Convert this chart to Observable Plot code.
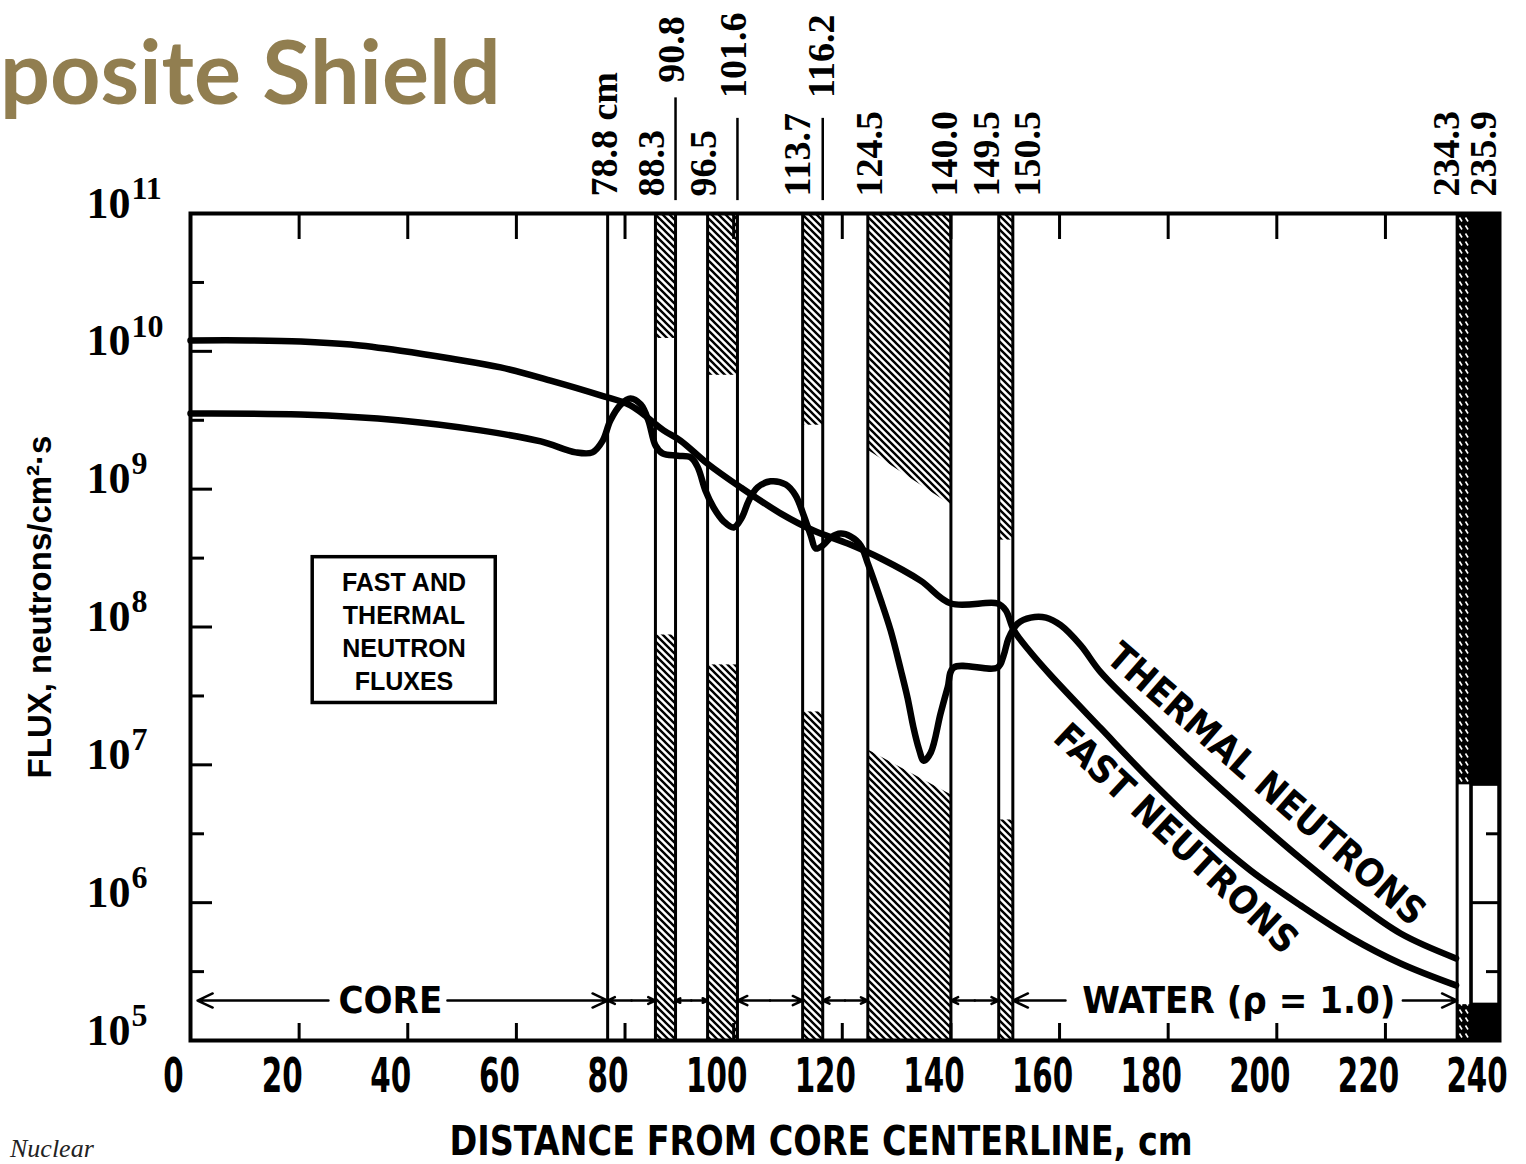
<!DOCTYPE html>
<html><head><meta charset="utf-8">
<script src="https://cdn.jsdelivr.net/npm/d3@7"></script>
<script src="https://cdn.jsdelivr.net/npm/@observablehq/plot@0.6"></script>
<style>
html,body{margin:0;padding:0;background:#fff;}
body{width:1526px;height:1164px;overflow:hidden;position:relative;}
#chart{position:absolute;left:0;top:0;}
#title{position:absolute;left:0px;top:25px;font-family:Lato,"Open Sans",sans-serif;font-weight:700;font-size:88px;line-height:90px;color:#917E50;white-space:nowrap;}
#note{position:absolute;left:10px;top:1136px;font-family:"Liberation Serif",serif;font-style:italic;font-size:26px;line-height:26px;color:#222;}
</style></head>
<body>
<svg width="0" height="0" style="position:absolute">
 <defs>
  <pattern id="hatch" patternUnits="userSpaceOnUse" width="7" height="7">
    <rect width="7" height="7" fill="#fff"/>
    <path d="M-2,-2L9,9M-2,5L2,9M5,-2L9,2" stroke="#000" stroke-width="2.4"/>
  </pattern>
  <pattern id="hatchDense" patternUnits="userSpaceOnUse" width="6" height="8">
    <rect width="6" height="8" fill="#000"/>
    <path d="M1.5,1.5L4,5.5" stroke="#fff" stroke-width="1.6"/>
  </pattern>
 </defs>
</svg>
<div id="chart"></div>
<div id="title">posite Shield</div>
<div id="note">Nuclear</div>
<script>
// ---- data ----
const xTicks = [0, 20, 40, 60, 80, 100, 120, 140, 160, 180, 200, 220, 240];
const xTickLabels = ["0", "20", "40", "60", "80", "100", "120", "140", "160", "180", "200", "220", "240"];
const yDecades = [1e5, 1e6, 1e7, 1e8, 1e9, 1e10, 1e11];
const yExponents = ["5", "6", "7", "8", "9", "10", "11"];
const yHalfDecades = [3.16e5, 3.16e6, 3.16e7, 3.16e8, 3.16e9, 3.16e10];

const fastX = [0, 11.0, 20.3, 29.5, 38.7, 47.9, 57.1, 66.3, 75.5, 81.0, 87.1, 90.2, 95.2, 101.3, 108.7, 114.7, 121.0, 127.1, 134.4, 140.0, 148.6, 150.1, 151.6, 154.7, 158.4, 167.6, 176.8, 186.0, 195.2, 204.4, 213.6, 222.8, 233.0];
const fastFlux = [1.20e10, 1.20e10, 1.18e10, 1.12e10, 1.01e10, 8.87e9, 7.64e9, 6.13e9, 4.79e9, 4.05e9, 2.67e9, 2.25e9, 1.53e9, 1.03e9, 6.65e8, 5.01e8, 4.03e8, 3.14e8, 2.17e8, 1.48e8, 1.48e8, 1.32e8, 9.44e7, 6.53e7, 4.45e7, 1.84e7, 7.69e6, 3.45e6, 1.71e6, 9.53e5, 5.58e5, 3.62e5, 2.51e5];

const thermalX = [0, 20.3, 38.7, 53.4, 64.5, 70.9, 74.0, 75.9, 77.3, 79.2, 81.0, 82.9, 84.3, 85.6, 86.9, 89.7, 92.1, 93.4, 94.8, 96.3, 98.2, 100.0, 101.5, 102.8, 104.4, 106.8, 109.6, 111.4, 112.9, 114.2, 115.1, 116.4, 117.9, 119.7, 121.5, 123.4, 124.7, 127.1, 128.9, 130.8, 132.0, 133.1, 134.1, 135.0, 136.3, 138.1, 139.4, 140.5, 148.6, 149.7, 150.6, 152.3, 154.7, 157.5, 160.2, 163.9, 167.6, 176.8, 186.0, 195.2, 204.4, 213.6, 222.8, 233.0];
const thermalFlux = [3.54e9, 3.48e9, 3.15e9, 2.67e9, 2.22e9, 1.85e9, 1.85e9, 2.25e9, 3.15e9, 4.11e9, 4.55e9, 4.11e9, 3.15e9, 2.08e9, 1.82e9, 1.75e9, 1.70e9, 1.44e9, 9.77e8, 7.36e8, 5.82e8, 5.27e8, 6.22e8, 8.28e8, 1.03e9, 1.14e9, 1.08e9, 9.0e8, 6.44e8, 4.61e8, 3.71e8, 3.90e8, 4.46e8, 4.76e8, 4.54e8, 3.90e8, 2.89e8, 1.56e8, 9.44e7, 4.83e7, 3.08e7, 1.87e7, 1.31e7, 1.07e7, 1.23e7, 2.36e7, 3.64e7, 5.08e7, 5.08e7, 6.21e7, 8.24e7, 1.06e8, 1.17e8, 1.17e8, 1.03e8, 7.35e7, 4.68e7, 2.03e7, 9.10e6, 4.29e6, 2.09e6, 1.07e6, 5.97e5, 3.94e5];

// layer boundaries as drawn (cm on the axis)
const boundaries = [76.8, 85.6, 89.3, 95.2, 100.7, 112.7, 116.4, 124.7, 140.0, 148.8, 151.4, 233.2, 235.8];
// narrow hatched layers
const layerStart = [85.6, 95.2, 112.7, 148.8];
const layerEnd = [89.3, 100.7, 116.4, 151.4];
const layerTopEnd = [1.24e10, 6.70e9, 2.91e9, 4.27e8];
const layerBottomEnd = [8.75e7, 5.31e7, 2.42e7, 3.98e6];
// thick hatched slab (124.5-140.0)
const slabX = [124.7, 140.0];
const slabTopEnd = [1.92e9, 7.66e8];
const slabBottomEnd = [1.285e7, 6.07e6];
// outer liner and vessel
const linerX = [233.2, 235.8];
const vesselX = [235.8, 241];
const windowTop = 7.16e6;
const windowBottom = 1.82e5;

const layerLabels = ["78.8 cm", "88.3", "96.5", "113.7", "124.5", "140.0", "149.5", "150.5", "234.3", "235.9"];
const layerLabelX = [76.2, 84.9, 94.5, 111.8, 125.0, 138.9, 146.6, 154.1, 231.3, 238.1];
const upperLabels = ["90.8", "101.6", "116.2"];
const upperLabelX = [88.6, 100.0, 116.2];
const upperLabelY = [8.9e11, 6.9e11, 6.9e11];
const leaderX = [89.3, 100.7, 116.4];
const leaderTop = [6.9e11, 4.9e11, 4.9e11];
const leaderBottom = 1.24e11;

const dimY = 1.95e5;
const dimFrom = [25.4, 47.3, 81.2, 81.2, 92.2, 92.2, 106.7, 106.7, 120.5, 120.5, 144.4, 144.4, 161.1, 223.2];
const dimTo = [1.3, 76.8, 76.8, 85.6, 89.3, 95.2, 100.7, 112.7, 116.4, 124.7, 140.0, 148.8, 151.4, 233.2];
const regionNames = ["CORE", "WATER (ρ = 1.0)"];
const regionNameX = [36.8, 193.0];

const legendBox = [{x1: 22.5, x2: 56.2, y1: 2.81e7, y2: 3.21e8}];
const legendText = ["FAST AND\nTHERMAL\nNEUTRON\nFLUXES"];
const legendX = [39.3];
const legendY = [9.5e7];

const curveNames = ["THERMAL NEUTRONS", "FAST NEUTRONS"];
const curveNameX = [198.0, 181.4];
const curveNameY = [7.2e6, 2.9e6];
const curveNameAngle = [41, 43];

// ---- tables ----
const fast = fastX.map((x, i) => ({x, y: fastFlux[i]}));
const thermal = thermalX.map((x, i) => ({x, y: thermalFlux[i]}));
const layersTop = layerStart.map((x1, i) => ({x1, x2: layerEnd[i], y1: layerTopEnd[i], y2: 1e11}));
const layersBottom = layerStart.map((x1, i) => ({x1, x2: layerEnd[i], y1: 1e5, y2: layerBottomEnd[i]}));
const slabTop = slabX.map((x, i) => ({x, y1: 1e11, y2: slabTopEnd[i]}));
const slabBottom = slabX.map((x, i) => ({x, y1: 1e5, y2: slabBottomEnd[i]}));
const outerTop = [{x1: linerX[0], x2: linerX[1], y1: windowTop, y2: 1e11}];
const outerBottom = [{x1: linerX[0], x2: linerX[1], y1: 1e5, y2: windowBottom}];
const vesselTop = [{x1: vesselX[0], x2: vesselX[1], y1: windowTop, y2: 1e11}];
const vesselBottom = [{x1: vesselX[0], x2: vesselX[1], y1: 1e5, y2: windowBottom}];
const vesselWindow = [{x1: vesselX[0], x2: vesselX[1], y1: windowBottom, y2: windowTop}];
const dims = dimFrom.map((x1, i) => ({x1, x2: dimTo[i]}));

const narrow = '"Liberation Sans Narrow","Arial Narrow","DejaVu Sans Condensed","Liberation Sans",sans-serif';
const serif = '"Liberation Serif","DejaVu Serif",serif';
const sans = '"Liberation Sans",Arial,sans-serif';
const noLabel = () => "";

const chart = Plot.plot({
  width: 1526, height: 1164,
  marginLeft: 190, marginRight: 27, marginTop: 213, marginBottom: 124,
  x: {domain: [0, 241]},
  y: {type: "log", domain: [1e5, 1e11]},
  style: {background: "white", color: "black", fontFamily: sans},
  marks: [
    Plot.rect(layersTop, {x1: "x1", x2: "x2", y1: "y1", y2: "y2", fill: "url(#hatch)"}),
    Plot.rect(layersBottom, {x1: "x1", x2: "x2", y1: "y1", y2: "y2", fill: "url(#hatch)"}),
    Plot.areaY(slabTop, {x: "x", y1: "y1", y2: "y2", fill: "url(#hatch)"}),
    Plot.areaY(slabBottom, {x: "x", y1: "y1", y2: "y2", fill: "url(#hatch)"}),
    Plot.rect(outerTop, {x1: "x1", x2: "x2", y1: "y1", y2: "y2", fill: "url(#hatchDense)"}),
    Plot.rect(outerBottom, {x1: "x1", x2: "x2", y1: "y1", y2: "y2", fill: "url(#hatchDense)"}),
    Plot.rect(vesselTop, {x1: "x1", x2: "x2", y1: "y1", y2: "y2", fill: "black"}),
    Plot.rect(vesselBottom, {x1: "x1", x2: "x2", y1: "y1", y2: "y2", fill: "black"}),
    Plot.rect(vesselWindow, {x1: "x1", x2: "x2", y1: "y1", y2: "y2", fill: "white", stroke: "black", strokeWidth: 3}),
    Plot.ruleY([1e6], {x1: vesselX[0], x2: vesselX[1], stroke: "black", strokeWidth: 3}),
    Plot.ruleX(boundaries, {x: d => d, y1: 1e5, y2: 1e11, stroke: "black", strokeWidth: 3}),
    Plot.ruleX(leaderX, {x: d => d, y1: leaderBottom, y2: (d, i) => leaderTop[i], stroke: "black", strokeWidth: 2.5}),
    Plot.line(fast, {x: "x", y: "y", stroke: "black", strokeWidth: 6.5, curve: "catmull-rom", strokeLinejoin: "round", strokeLinecap: "round"}),
    Plot.line(thermal, {x: "x", y: "y", stroke: "black", strokeWidth: 6.5, curve: "catmull-rom", strokeLinejoin: "round", strokeLinecap: "round"}),
    Plot.rect(legendBox, {x1: "x1", x2: "x2", y1: "y1", y2: "y2", fill: "white", stroke: "black", strokeWidth: 3.5}),
    Plot.text(legendText, {x: legendX, y: legendY, text: d => d, fontFamily: sans, fontWeight: "bold", fontSize: 25, lineHeight: 1.32}),
    Plot.arrow(dims, {x1: "x1", x2: "x2", y1: dimY, y2: dimY, stroke: "black", strokeWidth: 2.5, headLength: 10, headAngle: 50}),
    Plot.text(regionNames, {x: regionNameX, y: dimY, text: d => d, fontFamily: narrow, fontWeight: "bold", fontSize: 38}),
    Plot.text(curveNames, {x: curveNameX, y: curveNameY, text: d => d, rotate: (d, i) => curveNameAngle[i], fontFamily: narrow, fontWeight: "bold", fontSize: 38}),
    Plot.frame({stroke: "black", strokeWidth: 4}),
    // ticks (inward)
    Plot.axisX(xTicks, {anchor: "bottom", tickSize: -17, tickFormat: noLabel, strokeWidth: 3, label: null}),
    Plot.axisX(xTicks, {anchor: "top", tickSize: -25, tickFormat: noLabel, strokeWidth: 3, label: null}),
    Plot.axisY(yDecades, {anchor: "left", tickSize: -22, tickFormat: noLabel, strokeWidth: 3, label: null}),
    Plot.axisY(yHalfDecades, {anchor: "left", tickSize: -14, tickFormat: noLabel, strokeWidth: 3, label: null}),
    Plot.axisY(yHalfDecades, {anchor: "right", tickSize: -14, tickFormat: noLabel, strokeWidth: 3, label: null}),
    // tick labels
    Plot.text(xTicks, {x: d => d, frameAnchor: "bottom", lineAnchor: "middle", text: xTickLabels, dy: 36, dx: -17, fontFamily: narrow, fontWeight: "bold", fontSize: 48, ariaDescription: "x-tick-label"}),
    Plot.text(yDecades, {y: d => d, frameAnchor: "left", lineAnchor: "middle", text: () => "10", textAnchor: "end", dx: -60, dy: -10, fontFamily: serif, fontWeight: "bold", fontSize: 44}),
    Plot.text(yDecades, {y: d => d, frameAnchor: "left", lineAnchor: "middle", text: yExponents, textAnchor: "start", dx: -59, dy: -25, fontFamily: serif, fontWeight: "bold", fontSize: 32}),
    // layer labels
    Plot.text(layerLabels, {x: layerLabelX, frameAnchor: "top", lineAnchor: "middle", text: d => d, rotate: -90, textAnchor: "start", dy: -17, fontFamily: serif, fontWeight: "bold", fontSize: 38}),
    Plot.text(upperLabels, {x: upperLabelX, y: upperLabelY, lineAnchor: "middle", text: d => d, rotate: -90, textAnchor: "start", fontFamily: serif, fontWeight: "bold", fontSize: 38}),
    // axis titles
    Plot.text(["DISTANCE FROM CORE CENTERLINE, cm"], {frameAnchor: "bottom", lineAnchor: "middle", text: d => d, dx: -24, dy: 102, fontFamily: narrow, fontWeight: "bold", fontSize: 40, ariaDescription: "x-title"}),
    Plot.text(["FLUX, neutrons/cm²·s"], {frameAnchor: "left", lineAnchor: "middle", textAnchor: "middle", text: d => d, rotate: -90, dx: -150, dy: -20, fontFamily: sans, fontWeight: "bold", fontSize: 33})
  ]
});
document.getElementById("chart").appendChild(chart);

// condensed lettering like the original drafting font
function condense(desc, factor) {
  chart.querySelectorAll(`g[aria-description="${desc}"] text`).forEach(t => {
    const w = t.getComputedTextLength();
    t.setAttribute("textLength", (w * factor).toFixed(1));
    t.setAttribute("lengthAdjust", "spacingAndGlyphs");
  });
}
condense("x-tick-label", 0.68);
condense("x-title", 0.93);
</script>
</body></html>
